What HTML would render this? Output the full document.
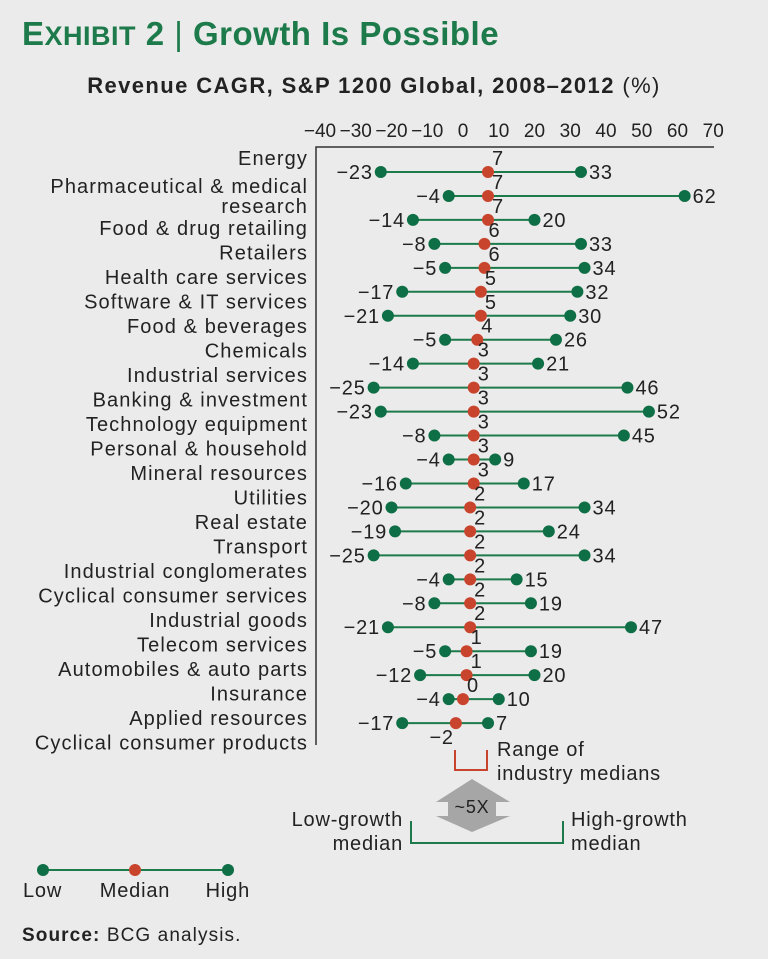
<!DOCTYPE html>
<html><head><meta charset="utf-8"><style>
body{margin:0;background:#ebebeb;font-family:"Liberation Sans",sans-serif;}
svg text{font-family:"Liberation Sans",sans-serif;fill:#222;letter-spacing:0.8px;}
</style></head><body>
<svg width="768" height="954">
<text x="22" y="45" font-size="33" font-weight="bold" style="fill:#1d7a4a;letter-spacing:0.5px"><tspan>E</tspan><tspan font-size="27">XHIBIT</tspan> 2 <tspan font-weight="normal">|</tspan> Growth Is Possible</text>
<text x="374" y="93" font-size="22" font-weight="bold" text-anchor="middle" style="letter-spacing:1.4px">Revenue CAGR, S&amp;P 1200 Global, 2008–2012 <tspan font-weight="normal">(%)</tspan></text>
<g id="axes"></g>
<g id="marks"></g>
<g>
<path d="M455 750 V770 H487 V750" fill="none" stroke="#c8442c" stroke-width="2"/>
<text x="497" y="756" font-size="20">Range of</text>
<text x="497" y="780" font-size="20">industry medians</text>
<polygon points="436,802 472,779 510,802" fill="#a6a6a6"/>
<rect x="448" y="800" width="48" height="18" fill="#a6a6a6"/>
<polygon points="436,816 510,816 472,832" fill="#a6a6a6"/>
<text x="472" y="813" font-size="18" text-anchor="middle">~5X</text>
<path d="M411 821 V843 H563 V821" fill="none" stroke="#1d7a4a" stroke-width="2"/>
<text x="403" y="826" font-size="20" text-anchor="end">Low-growth</text>
<text x="403" y="850" font-size="20" text-anchor="end">median</text>
<text x="571" y="826" font-size="20">High-growth</text>
<text x="571" y="850" font-size="20">median</text>
</g>
<g>
<line x1="43" y1="870" x2="228" y2="870" stroke="#1d7a4a" stroke-width="2"/>
<circle cx="43" cy="870" r="6" fill="#0e6e45"/>
<circle cx="135" cy="870" r="6" fill="#c8442c"/>
<circle cx="228" cy="870" r="6" fill="#0e6e45"/>
<text x="23" y="897" font-size="20">Low</text>
<text x="135" y="897" font-size="20" text-anchor="middle">Median</text>
<text x="250" y="897" font-size="20" text-anchor="end">High</text>
</g>
<text x="22" y="941" font-size="19" style="letter-spacing:1.1px"><tspan font-weight="bold">Source:</tspan> BCG analysis.</text>
</svg>
<script>
const categories=["Energy","Pharmaceutical & medical|research","Food & drug retailing","Retailers","Health care services","Software & IT services","Food & beverages","Chemicals","Industrial services","Banking & investment","Technology equipment","Personal & household","Mineral resources","Utilities","Real estate","Transport","Industrial conglomerates","Cyclical consumer services","Industrial goods","Telecom services","Automobiles & auto parts","Insurance","Applied resources","Cyclical consumer products"];
const lows=[-23,-4,-14,-8,-5,-17,-21,-5,-14,-25,-23,-8,-4,-16,-20,-19,-25,-4,-8,-21,-5,-12,-4,-17];
const medians=[7,7,7,6,6,5,5,4,3,3,3,3,3,3,2,2,2,2,2,2,1,1,0,-2];
const highs=[33,62,20,33,34,32,30,26,21,46,52,45,9,17,34,24,34,15,19,47,19,20,10,7];
const ticks=[-40,-30,-20,-10,0,10,20,30,40,50,60,70];
const NS="http://www.w3.org/2000/svg";
const x=v=>463+v*3.575;
const y=i=>172+i*23.96;
function mk(t,a,p,txt){const e=document.createElementNS(NS,t);for(const k in a)e.setAttribute(k,a[k]);if(txt!==undefined)e.textContent=txt;p.appendChild(e);return e;}
const ax=document.getElementById('axes'),mg=document.getElementById('marks');
const al=mk('path',{d:'M316 745 V147 H714',fill:'none',stroke:'#333','stroke-width':1.5},ax);


ticks.forEach(t=>{const e=mk('text',{x:x(t),y:137,'font-size':19,'text-anchor':'middle',style:'letter-spacing:0'},ax,t<0?'−'+(-t):String(t));

});
categories.forEach((c,i)=>{
  const parts=c.split('|');
  let ly;
  if(i===0)ly=165;else if(i===1)ly=193;else ly=235+(i-2)*24.5;
  parts.forEach((p,j)=>{const e=mk('text',{x:308,y:ly+j*20,'font-size':20,'text-anchor':'end',style:'letter-spacing:1.1px'},ax,p);
  
  });
});
lows.forEach((lo,i)=>{
  const g=mk('g',{},mg);
  
  
  const yy=y(i);
  mk('line',{x1:x(lo),x2:x(highs[i]),y1:yy,y2:yy,stroke:'#1d7a4a','stroke-width':2},g);
  const c1=mk('circle',{cx:x(lo),cy:yy,r:6,fill:'#0e6e45'},g);
  
  
  const c2=mk('circle',{cx:x(highs[i]),cy:yy,r:6,fill:'#0e6e45'},g);
  
  
  const c3=mk('circle',{cx:x(medians[i]),cy:yy,r:6,fill:'#c8442c'},g);
  
  
  const f=v=>v<0?'−'+(-v):String(v);
  mk('text',{x:x(lo)-8,y:yy+7,'font-size':20,'text-anchor':'end'},g,f(lo));
  mk('text',{x:x(highs[i])+8,y:yy+7,'font-size':20},g,f(highs[i]));
  if(medians[i]<0) mk('text',{x:x(medians[i])-2,y:yy+21,'font-size':20,'text-anchor':'end'},g,f(medians[i]));
  else mk('text',{x:x(medians[i])+4,y:yy-7,'font-size':20},g,f(medians[i]));
});
</script>
</body></html>
